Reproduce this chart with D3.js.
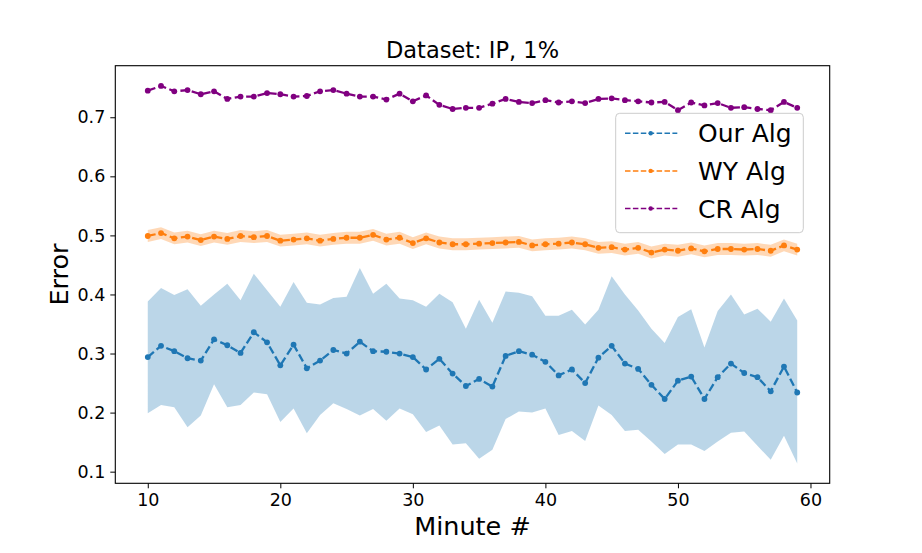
<!DOCTYPE html>
<html>
<head>
<meta charset="utf-8">
<script src="https://cdn.jsdelivr.net/npm/d3@7.9.0/dist/d3.min.js"></script>
<style>
  html, body { margin: 0; padding: 0; background: #fff; }
  svg { display: block; font-family: "DejaVu Sans", sans-serif; }
</style>
</head>
<body>
<svg id="chart" width="922" height="553"></svg>
<script>
// minute index on the x axis
const minutes = [
  10, 11, 12, 13, 14, 15, 16, 17, 18, 19,
  20, 21, 22, 23, 24, 25, 26, 27, 28, 29,
  30, 31, 32, 33, 34, 35, 36, 37, 38, 39,
  40, 41, 42, 43, 44, 45, 46, 47, 48, 49,
  50, 51, 52, 53, 54, 55, 56, 57, 58, 59
];

const ourAlg = [
  0.294, 0.313, 0.304, 0.292, 0.288, 0.324, 0.314, 0.301, 0.336, 0.319,
  0.280, 0.315, 0.275, 0.288, 0.306, 0.300, 0.320, 0.304, 0.303, 0.300,
  0.294, 0.273, 0.291, 0.266, 0.245, 0.257, 0.244, 0.296, 0.304, 0.298,
  0.286, 0.263, 0.273, 0.250, 0.293, 0.313, 0.283, 0.274, 0.247, 0.223,
  0.254, 0.261, 0.223, 0.260, 0.283, 0.267, 0.260, 0.236, 0.278, 0.234
];
const ourUpper = [
  0.388, 0.411, 0.399, 0.409, 0.381, 0.400, 0.418, 0.390, 0.435, 0.407,
  0.379, 0.421, 0.386, 0.383, 0.394, 0.396, 0.445, 0.401, 0.418, 0.393,
  0.390, 0.379, 0.401, 0.387, 0.342, 0.391, 0.352, 0.405, 0.403, 0.397,
  0.364, 0.364, 0.374, 0.349, 0.374, 0.431, 0.400, 0.373, 0.342, 0.318,
  0.362, 0.375, 0.310, 0.372, 0.400, 0.366, 0.376, 0.354, 0.393, 0.356
];
const ourLower = [
  0.199, 0.213, 0.209, 0.175, 0.195, 0.248, 0.209, 0.213, 0.234, 0.231,
  0.184, 0.207, 0.165, 0.196, 0.216, 0.206, 0.195, 0.206, 0.186, 0.207,
  0.197, 0.167, 0.178, 0.146, 0.148, 0.122, 0.137, 0.189, 0.202, 0.200,
  0.207, 0.162, 0.169, 0.152, 0.212, 0.196, 0.169, 0.171, 0.151, 0.130,
  0.146, 0.146, 0.135, 0.151, 0.166, 0.168, 0.144, 0.120, 0.161, 0.114
];

const wyAlg = [
  0.499, 0.504, 0.495, 0.498, 0.492, 0.498, 0.494, 0.499, 0.497, 0.499,
  0.491, 0.493, 0.495, 0.491, 0.494, 0.496, 0.496, 0.501, 0.493, 0.496,
  0.487, 0.495, 0.488, 0.485, 0.485, 0.486, 0.487, 0.488, 0.489, 0.483,
  0.485, 0.486, 0.488, 0.485, 0.479, 0.480, 0.476, 0.479, 0.471, 0.476,
  0.474, 0.478, 0.473, 0.477, 0.477, 0.476, 0.477, 0.474, 0.483, 0.476
];
// half-width of the orange band, about the same everywhere
const wySpread = [
  0.010, 0.010, 0.010, 0.010, 0.010, 0.010, 0.010, 0.010, 0.010, 0.010,
  0.010, 0.010, 0.010, 0.010, 0.010, 0.010, 0.010, 0.010, 0.010, 0.010,
  0.010, 0.010, 0.010, 0.010, 0.010, 0.010, 0.010, 0.010, 0.010, 0.010,
  0.010, 0.010, 0.010, 0.010, 0.010, 0.010, 0.010, 0.010, 0.010, 0.010,
  0.010, 0.010, 0.010, 0.010, 0.010, 0.010, 0.010, 0.010, 0.010, 0.010
];

const crAlg = [
  0.745, 0.753, 0.744, 0.746, 0.739, 0.744, 0.731, 0.735, 0.735, 0.741,
  0.739, 0.735, 0.736, 0.744, 0.746, 0.740, 0.735, 0.735, 0.730, 0.740,
  0.727, 0.737, 0.721, 0.714, 0.716, 0.716, 0.723, 0.731, 0.726, 0.724,
  0.729, 0.725, 0.727, 0.724, 0.731, 0.732, 0.729, 0.727, 0.725, 0.726,
  0.712, 0.725, 0.720, 0.724, 0.716, 0.717, 0.714, 0.712, 0.726, 0.716
];

const xTicks = [10, 20, 30, 40, 50, 60];
const yTicks = [0.1, 0.2, 0.3, 0.4, 0.5, 0.6, 0.7];
const seriesNames = ['Our Alg', 'WY Alg', 'CR Alg'];
const seriesColors = ['#1f77b4', '#ff7f0e', '#800080'];

const svg = d3.select('#chart');
const margin = { top: 65.7, right: 92.3, bottom: 69.7, left: 115.3 };
const width = 922 - margin.left - margin.right;
const height = 553 - margin.top - margin.bottom;

const x = d3.scaleLinear().domain([7.55, 61.45]).range([0, width]);
const y = d3.scaleLinear().domain([0.0803, 0.7873]).range([height, 0]);

const g = svg.append('g').attr('transform', `translate(${margin.left},${margin.top})`);

// shaded bands
const band = d3.area()
  .x((d) => x(d.m))
  .y0((d) => y(d.lo))
  .y1((d) => y(d.hi));

g.append('path')
  .datum(minutes.map((m, i) => ({ m, lo: ourLower[i], hi: ourUpper[i] })))
  .attr('d', band)
  .attr('fill', seriesColors[0])
  .attr('fill-opacity', 0.3);

g.append('path')
  .datum(minutes.map((m, i) => ({ m, lo: wyAlg[i] - wySpread[i], hi: wyAlg[i] + wySpread[i] })))
  .attr('d', band)
  .attr('fill', seriesColors[1])
  .attr('fill-opacity', 0.3);

// dashed lines with dots
const line = d3.line().x((d) => x(d.m)).y((d) => y(d.v));
const allSeries = [ourAlg, wyAlg, crAlg];

allSeries.forEach((vals, k) => {
  const pts = minutes.map((m, i) => ({ m, v: vals[i] }));
  g.append('path')
    .datum(pts)
    .attr('d', line)
    .attr('fill', 'none')
    .attr('stroke', seriesColors[k])
    .attr('stroke-width', 2.3)
    .attr('stroke-dasharray', '8,3.5');
  g.selectAll(null)
    .data(pts)
    .join('circle')
    .attr('cx', (d) => x(d.m))
    .attr('cy', (d) => y(d.v))
    .attr('r', 2.9)
    .attr('fill', seriesColors[k]);
});

// axes
const xAxis = d3.axisBottom(x).tickValues(xTicks).tickSize(5).tickPadding(5).tickFormat(d3.format('d'));
const yAxis = d3.axisLeft(y).tickValues(yTicks).tickSize(5).tickPadding(5).tickFormat(d3.format('.1f'));

const gx = g.append('g').attr('transform', `translate(0,${height})`).call(xAxis);
const gy = g.append('g').call(yAxis);
[gx, gy].forEach((a) => {
  a.select('.domain').remove();
  a.selectAll('.tick line').attr('stroke', '#000').attr('stroke-width', 1);
  a.selectAll('.tick text')
    .attr('fill', '#000')
    .style('font-size', '17.5px')
    .style('font-family', '"DejaVu Sans", sans-serif');
});

// frame
g.append('rect')
  .attr('width', width)
  .attr('height', height)
  .attr('fill', 'none')
  .attr('stroke', '#000')
  .attr('stroke-width', 1.1);

// title and labels
svg.append('text')
  .attr('x', margin.left + width / 2)
  .attr('y', 58.3)
  .attr('text-anchor', 'middle')
  .style('font-size', '22.5px')
  .text('Dataset: IP, 1%');

svg.append('text')
  .attr('x', margin.left + width / 2)
  .attr('y', 535)
  .attr('text-anchor', 'middle')
  .style('font-size', '25.5px')
  .text('Minute #');

svg.append('text')
  .attr('transform', `translate(68,${margin.top + height / 2}) rotate(-90)`)
  .attr('text-anchor', 'middle')
  .style('font-size', '25.5px')
  .text('Error');

// legend
const legend = svg.append('g').attr('transform', 'translate(615.7,113.3)');
legend.append('rect')
  .attr('width', 187.6)
  .attr('height', 119.4)
  .attr('rx', 4)
  .attr('fill', '#fff')
  .attr('fill-opacity', 0.8)
  .attr('stroke', '#cccccc');

seriesNames.forEach((name, k) => {
  const row = legend.append('g').attr('transform', `translate(0,${20 + k * 37.6})`);
  row.append('line')
    .attr('x1', 9.3).attr('x2', 61.6)
    .attr('stroke', seriesColors[k])
    .attr('stroke-width', 1.5)
    .attr('stroke-dasharray', '5.5,2.4');
  row.append('circle').attr('cx', 35).attr('r', 2.2).attr('fill', seriesColors[k]);
  row.append('text')
    .attr('x', 82.3)
    .attr('y', 9)
    .style('font-size', '25px')
    .text(name);
});
</script>
</body>
</html>
